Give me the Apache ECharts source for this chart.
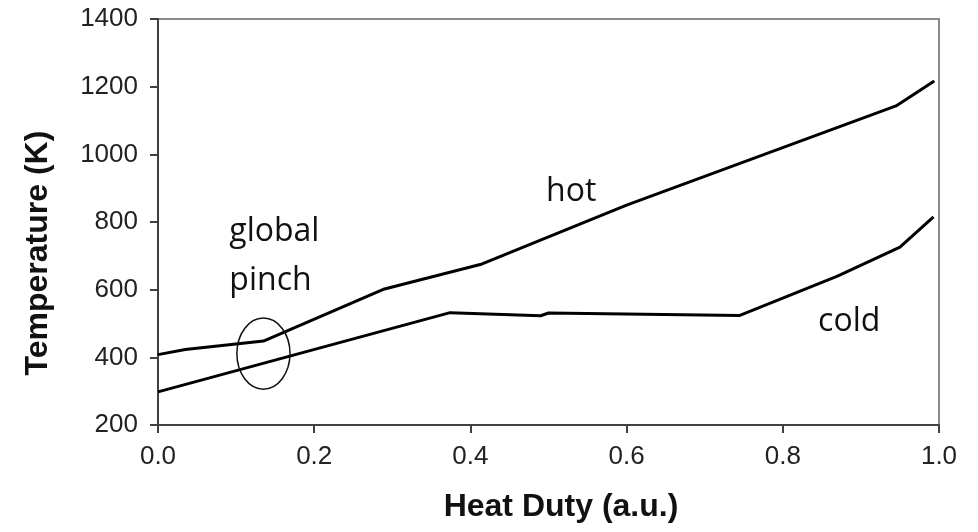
<!DOCTYPE html>
<html>
<head>
<meta charset="utf-8">
<script src="https://cdn.jsdelivr.net/npm/echarts@6/dist/echarts.min.js"></script>
<style>html,body{margin:0;padding:0;background:#fff;}#c{width:978px;height:532px;}</style>
</head>
<body>
<div id="c"></div>
<script>
// Data
const hotX  = [0, 0.035, 0.135, 0.29, 0.415, 0.60, 0.945, 0.994];
const hotY  = [408, 423, 448, 602, 676, 850, 1143, 1217];
const coldX = [0, 0.374, 0.49, 0.50, 0.745, 0.87, 0.950, 0.993];
const coldY = [298, 532, 523, 531, 524, 640, 726, 815];
const xTicks = [0, 0.2, 0.4, 0.6, 0.8, 1.0];
const yTicks = [200, 400, 600, 800, 1000, 1200, 1400];
// annotations in data coordinates
const notes = [
  {text: 'hot',    x: 0.529, y: 889},
  {text: 'global', x: 0.149, y: 770},
  {text: 'pinch',  x: 0.144, y: 626},
  {text: 'cold',   x: 0.885, y: 504}
];
const pinch = {x: 0.135, y: 411, rx: 0.034, ry: 105};

const zip = (a, b) => a.map((v, i) => [v, b[i]]);
const chart = echarts.init(document.getElementById('c'), null, {renderer: 'canvas'});
const labelFont = {fontFamily: 'Liberation Sans', fontSize: 26, color: '#222'};
const option = {
  animation: false,
  grid: {left: 158, right: 39, top: 19, bottom: 107, show: true, borderColor: '#8c8c8c', borderWidth: 2},
  xAxis: {
    type: 'value', min: xTicks[0], max: xTicks[xTicks.length - 1], interval: 0.2,
    name: 'Heat Duty (a.u.)', nameLocation: 'middle', nameGap: 66,
    nameTextStyle: {fontFamily: 'Liberation Sans', fontWeight: 'bold', fontSize: 32, color: '#111', padding: [0, 0, 0, 25]},
    axisLine: {show: true, lineStyle: {color: '#404040', width: 2}},
    axisTick: {show: true, inside: false, length: 8, lineStyle: {color: '#404040', width: 2}},
    axisLabel: Object.assign({margin: 19, formatter: v => v.toFixed(1)}, labelFont),
    splitLine: {show: false}
  },
  yAxis: {
    type: 'value', min: yTicks[0], max: yTicks[yTicks.length - 1], interval: 200,
    name: 'Temperature (K)', nameLocation: 'middle', nameGap: 104,
    nameTextStyle: {fontFamily: 'Liberation Sans', fontWeight: 'bold', fontSize: 32, color: '#111', padding: [0, 62, 0, 0]},
    axisLine: {show: true, lineStyle: {color: '#404040', width: 2}},
    axisTick: {show: true, inside: false, length: 8, lineStyle: {color: '#404040', width: 2}},
    axisLabel: Object.assign({margin: 20, formatter: v => String(v)}, labelFont),
    splitLine: {show: false}
  },
  series: [
    {name: 'hot', type: 'line', data: zip(hotX, hotY), showSymbol: false, symbol: 'none',
     lineStyle: {color: '#000', width: 3}, z: 3},
    {name: 'cold', type: 'line', data: zip(coldX, coldY), showSymbol: false, symbol: 'none',
     lineStyle: {color: '#000', width: 3}, z: 3}
  ]
};
chart.setOption(option);

const toPx = (x, y) => chart.convertToPixel({gridIndex: 0}, [x, y]);
const c = toPx(pinch.x, pinch.y);
const e1 = toPx(pinch.x + pinch.rx, pinch.y + pinch.ry);
const graphics = [{
  type: 'ellipse', z: 10,
  shape: {cx: c[0], cy: c[1], rx: Math.abs(e1[0] - c[0]), ry: Math.abs(e1[1] - c[1])},
  style: {fill: 'none', stroke: '#111', lineWidth: 1.5}
}];
notes.forEach(n => {
  const p = toPx(n.x, n.y);
  graphics.push({
    type: 'text', x: p[0], y: p[1], z: 10,
    style: {text: n.text, fontFamily: 'Open Sans', fontSize: 32, fill: '#111', align: 'center', verticalAlign: 'middle'}
  });
});
chart.setOption({graphic: graphics});
</script>
</body>
</html>
